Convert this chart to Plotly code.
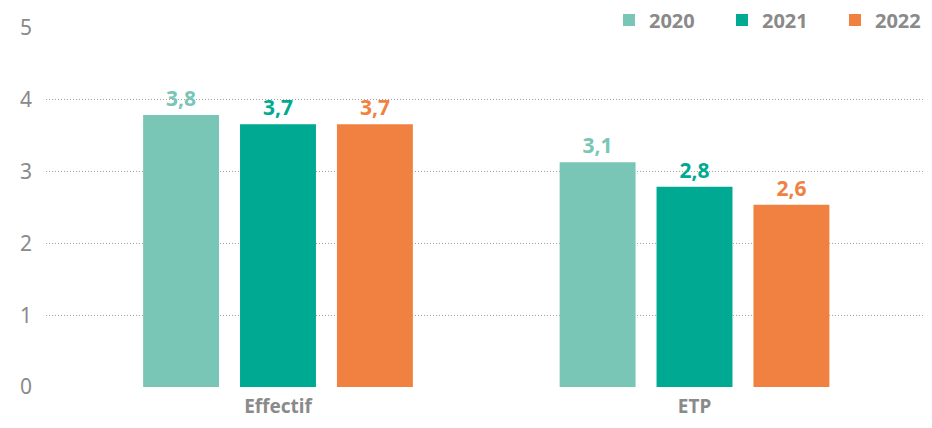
import plotly.graph_objects as go

categories = ["Effectif", "ETP"]
years = ["2020", "2021", "2022"]
values = {
    "2020": [3.79, 3.13],
    "2021": [3.66, 2.79],
    "2022": [3.66, 2.54],
}
labels = {
    "2020": ["3,8", "3,1"],
    "2021": ["3,7", "2,8"],
    "2022": ["3,7", "2,6"],
}
colors = {"2020": "#79C6B6", "2021": "#00A992", "2022": "#F08141"}

FONT = "Noto Sans"

fig = go.Figure()
for y in years:
    fig.add_trace(go.Bar(
        x=categories, y=values[y], name=y,
        marker=dict(color=colors[y], line=dict(width=0)),
        text=labels[y], textposition="outside", cliponaxis=False,
        textfont=dict(color=colors[y], size=21, family=FONT, weight="bold"),
    ))

fig.update_layout(
    width=916, height=412,
    margin=dict(l=38, r=0, t=20, b=33, autoexpand=False),
    paper_bgcolor="white", plot_bgcolor="white",
    barmode="group", bargap=0.302, bargroupgap=0.2165,
    font=dict(family=FONT, color="#8a8a8a"),
    legend=dict(orientation="h", x=0.6412, xanchor="left", yref="container",
                y=0.971, yanchor="middle",
                bgcolor="white", font=dict(size=20, color="#8a8a8a", weight="bold"),
                itemwidth=30, entrywidth=68, entrywidthmode="pixels",
                traceorder="normal"),
    xaxis=dict(range=[-0.557, 1.551], showgrid=False, zeroline=False, showline=False,
               ticks="", ticklabelstandoff=6,
               tickfont=dict(size=19, color="#8a8a8a", weight="bold")),
    yaxis=dict(range=[0, 5], dtick=1, showgrid=True, gridcolor="#a0a0a0", griddash="1px,2px",
               gridwidth=1, zeroline=False, showline=False, ticks="", ticklabelstandoff=13,
               tickfont=dict(size=21, color="#8a8a8a")),
)

fig.write_html("out.html")
